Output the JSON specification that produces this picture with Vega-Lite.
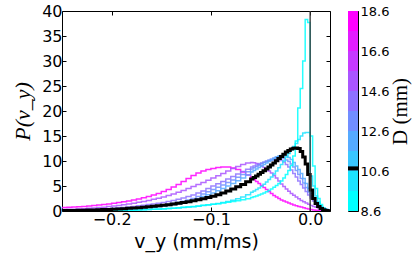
{
  "$schema": "https://vega.github.io/schema/vega-lite/v6.json",
  "background": "white",
  "padding": {"left": 11, "top": 2, "right": 0, "bottom": 5},
  "spacing": 16,
  "config": {
    "view": {"stroke": "black", "strokeWidth": 1},
    "axis": {"grid": false, "domain": false, "tickColor": "black", "tickSize": -4, "tickWidth": 1, "labelColor": "black", "labelFont": "DejaVu Sans", "labelFontSize": 16, "labelPadding": 4, "labelOverlap": false, "titleColor": "black", "titleFontWeight": "normal"}
  },
  "hconcat": [
    {
      "width": 268,
      "height": 200,
      "layer": [
        {
          "data": {"values": [
            {"D": 18.1, "v": [-0.25,-0.245,-0.24,-0.235,-0.23,-0.225,-0.22,-0.215,-0.21,-0.205,-0.2,-0.195,-0.19,-0.185,-0.18,-0.175,-0.17,-0.165,-0.16,-0.155,-0.15,-0.145,-0.14,-0.135,-0.13,-0.125,-0.12,-0.115,-0.11,-0.105,-0.1,-0.095,-0.09,-0.085,-0.08,-0.075,-0.07,-0.065,-0.06,-0.0575,-0.055,-0.0525,-0.05,-0.0475,-0.045,-0.0425,-0.04,-0.0375,-0.035,-0.0325,-0.03,-0.0275,-0.025,-0.0225,-0.02,-0.0175,-0.015,-0.0125,-0.01,-0.0075,-0.005,-0.0025,0,0.0025,0.005,0.0075,0.01,0.0125,0.015,0.0175,0.02],
             "P": [0.7,0.75,0.8,0.85,0.9,1.0,1.1,1.2,1.3,1.4,1.55,1.7,1.85,2.0,2.2,2.4,2.65,2.9,3.2,3.5,3.9,4.3,4.8,5.3,5.9,6.5,7.1,7.6,8.0,8.3,8.5,8.7,8.8,8.8,8.6,8.3,7.8,7.2,6.6,6.3,5.9,5.5,5.1,4.7,4.3,3.9,3.5,3.1,2.8,2.5,2.2,2.0,1.8,1.6,1.4,1.2,1.05,0.9,0.8,0.65,0.5,0.4,0.3,0.2,0.15,0.1,0.05,0.03,0.02,0.01,0]},
            {"D": 15.1, "v": [-0.25,-0.245,-0.24,-0.235,-0.23,-0.225,-0.22,-0.215,-0.21,-0.205,-0.2,-0.195,-0.19,-0.185,-0.18,-0.175,-0.17,-0.165,-0.16,-0.155,-0.15,-0.145,-0.14,-0.135,-0.13,-0.125,-0.12,-0.115,-0.11,-0.105,-0.1,-0.095,-0.09,-0.085,-0.08,-0.075,-0.07,-0.065,-0.06,-0.0575,-0.055,-0.0525,-0.05,-0.0475,-0.045,-0.0425,-0.04,-0.0375,-0.035,-0.0325,-0.03,-0.0275,-0.025,-0.0225,-0.02,-0.0175,-0.015,-0.0125,-0.01,-0.0075,-0.005,-0.0025,0,0.0025,0.005,0.0075,0.01,0.0125,0.015,0.0175,0.02],
             "P": [0.3,0.33,0.37,0.42,0.47,0.53,0.6,0.68,0.77,0.88,1.0,1.12,1.25,1.4,1.56,1.73,1.92,2.12,2.33,2.55,2.8,3.1,3.4,3.75,4.1,4.5,4.9,5.3,5.7,6.15,6.6,7.05,7.5,8.0,8.5,8.9,9.3,9.6,9.7,9.65,9.5,9.3,9.0,8.7,8.35,8.0,7.6,7.1,6.6,6.0,5.4,4.9,4.4,3.95,3.5,3.15,2.8,2.45,2.1,1.85,1.6,1.35,1.1,0.9,0.75,0.6,0.5,0.38,0.27,0.18,0]},
            {"D": 13.6, "v": [-0.25,-0.245,-0.24,-0.235,-0.23,-0.225,-0.22,-0.215,-0.21,-0.205,-0.2,-0.195,-0.19,-0.185,-0.18,-0.175,-0.17,-0.165,-0.16,-0.155,-0.15,-0.145,-0.14,-0.135,-0.13,-0.125,-0.12,-0.115,-0.11,-0.105,-0.1,-0.095,-0.09,-0.085,-0.08,-0.075,-0.07,-0.065,-0.06,-0.0575,-0.055,-0.0525,-0.05,-0.0475,-0.045,-0.0425,-0.04,-0.0375,-0.035,-0.0325,-0.03,-0.0275,-0.025,-0.0225,-0.02,-0.0175,-0.015,-0.0125,-0.01,-0.0075,-0.005,-0.0025,0,0.0025,0.005,0.0075,0.01,0.0125,0.015,0.0175,0.02],
             "P": [0.15,0.17,0.19,0.21,0.24,0.27,0.3,0.34,0.39,0.46,0.55,0.63,0.72,0.82,0.92,1.03,1.15,1.28,1.42,1.56,1.72,1.9,2.1,2.35,2.6,2.9,3.2,3.6,4.0,4.5,5.0,5.45,5.9,6.4,6.9,7.4,7.9,8.35,8.8,9.0,9.2,9.4,9.6,9.75,9.9,10.05,10.2,10.3,10.4,10.3,10.1,9.8,9.3,8.8,8.2,7.5,6.8,6.0,5.3,4.6,3.9,3.2,2.6,2.0,1.5,1.1,0.75,0.5,0.3,0.15,0]},
            {"D": 12.6, "v": [-0.25,-0.245,-0.24,-0.235,-0.23,-0.225,-0.22,-0.215,-0.21,-0.205,-0.2,-0.195,-0.19,-0.185,-0.18,-0.175,-0.17,-0.165,-0.16,-0.155,-0.15,-0.145,-0.14,-0.135,-0.13,-0.125,-0.12,-0.115,-0.11,-0.105,-0.1,-0.095,-0.09,-0.085,-0.08,-0.075,-0.07,-0.065,-0.06,-0.0575,-0.055,-0.0525,-0.05,-0.0475,-0.045,-0.0425,-0.04,-0.0375,-0.035,-0.0325,-0.03,-0.0275,-0.025,-0.0225,-0.02,-0.0175,-0.015,-0.0125,-0.01,-0.0075,-0.005,-0.0025,0,0.0025,0.005,0.0075,0.01,0.0125,0.015,0.0175,0.02],
             "P": [0.1,0.11,0.12,0.14,0.16,0.18,0.2,0.23,0.26,0.3,0.35,0.4,0.46,0.53,0.61,0.7,0.8,0.9,1.0,1.12,1.25,1.4,1.57,1.76,1.97,2.2,2.5,2.9,3.4,3.85,4.3,4.75,5.2,5.7,6.2,6.75,7.3,7.85,8.4,8.65,8.9,9.2,9.5,9.75,10.0,10.2,10.4,10.6,10.75,10.8,10.75,10.5,10.2,9.9,9.4,8.8,8.1,7.3,6.5,5.6,4.7,3.8,3.0,2.3,1.7,1.2,0.8,0.5,0.3,0.15,0]},
            {"D": 11.6, "v": [-0.25,-0.245,-0.24,-0.235,-0.23,-0.225,-0.22,-0.215,-0.21,-0.205,-0.2,-0.195,-0.19,-0.185,-0.18,-0.175,-0.17,-0.165,-0.16,-0.155,-0.15,-0.145,-0.14,-0.135,-0.13,-0.125,-0.12,-0.115,-0.11,-0.105,-0.1,-0.095,-0.09,-0.085,-0.08,-0.075,-0.07,-0.065,-0.06,-0.0575,-0.055,-0.0525,-0.05,-0.0475,-0.045,-0.0425,-0.04,-0.0375,-0.035,-0.0325,-0.03,-0.0275,-0.025,-0.0225,-0.02,-0.0175,-0.015,-0.0125,-0.01,-0.0075,-0.005,-0.0025,0,0.0025,0.005,0.0075,0.01,0.0125,0.015,0.0175,0.02],
             "P": [0.05,0.06,0.07,0.08,0.09,0.1,0.12,0.14,0.17,0.21,0.25,0.29,0.34,0.4,0.46,0.53,0.6,0.68,0.77,0.87,0.98,1.1,1.24,1.4,1.58,1.8,2.05,2.45,2.9,3.25,3.6,4.05,4.5,5.0,5.5,6.05,6.6,7.2,7.8,8.1,8.4,8.7,9.0,9.3,9.6,9.9,10.2,10.5,10.8,11.0,11.1,11.1,11.0,10.7,10.3,9.7,9.0,8.3,7.5,6.5,5.5,4.5,3.5,2.6,1.9,1.3,0.9,0.55,0.3,0.15,0]},
            {"D": 9.6, "v": [-0.25,-0.245,-0.24,-0.235,-0.23,-0.225,-0.22,-0.215,-0.21,-0.205,-0.2,-0.195,-0.19,-0.185,-0.18,-0.175,-0.17,-0.165,-0.16,-0.155,-0.15,-0.145,-0.14,-0.135,-0.13,-0.125,-0.12,-0.115,-0.11,-0.105,-0.1,-0.095,-0.09,-0.085,-0.08,-0.075,-0.07,-0.065,-0.06,-0.0575,-0.055,-0.0525,-0.05,-0.0475,-0.045,-0.0425,-0.04,-0.0375,-0.035,-0.0325,-0.03,-0.0275,-0.025,-0.0225,-0.02,-0.0175,-0.015,-0.0125,-0.01,-0.0075,-0.005,-0.0025,0,0.0025,0.005,0.0075,0.01,0.0125,0.015,0.0175,0.02],
             "P": [0.02,0.02,0.03,0.03,0.04,0.05,0.06,0.07,0.08,0.09,0.1,0.12,0.14,0.16,0.19,0.22,0.25,0.29,0.33,0.37,0.42,0.48,0.55,0.62,0.7,0.78,0.87,0.97,1.08,1.2,1.33,1.5,1.7,1.92,2.17,2.45,2.8,3.25,3.75,4.0,4.3,4.6,4.95,5.35,5.8,6.3,6.8,7.4,8.0,8.65,9.3,10.0,10.8,11.5,12.2,12.9,13.5,14.3,15.0,15.6,15.7,15.7,7.0,5.0,3.0,1.8,0.9,0.45,0.18,0.06,0]},
            {"D": 8.6, "v": [-0.25,-0.245,-0.24,-0.235,-0.23,-0.225,-0.22,-0.215,-0.21,-0.205,-0.2,-0.195,-0.19,-0.185,-0.18,-0.175,-0.17,-0.165,-0.16,-0.155,-0.15,-0.145,-0.14,-0.135,-0.13,-0.125,-0.12,-0.115,-0.11,-0.105,-0.1,-0.095,-0.09,-0.085,-0.08,-0.075,-0.07,-0.065,-0.06,-0.0575,-0.055,-0.0525,-0.05,-0.0475,-0.045,-0.0425,-0.04,-0.0375,-0.035,-0.0325,-0.03,-0.0275,-0.025,-0.0225,-0.02,-0.0175,-0.015,-0.0125,-0.01,-0.0075,-0.005,-0.0025,0,0.0025,0.005,0.0075,0.01,0.0125,0.015,0.0175,0.02],
             "P": [0.01,0.01,0.02,0.02,0.03,0.03,0.04,0.05,0.06,0.07,0.08,0.1,0.12,0.14,0.17,0.2,0.24,0.28,0.33,0.38,0.44,0.5,0.57,0.65,0.73,0.82,0.92,1.02,1.13,1.24,1.35,1.47,1.6,1.74,1.89,2.05,2.25,2.45,2.7,2.85,3.0,3.2,3.4,3.6,3.85,4.1,4.4,4.75,5.1,5.5,6.0,6.6,7.3,8.1,9.1,11.0,14.0,20.6,24.5,30.0,38.3,37.7,15.0,9.0,4.5,2.5,1.3,0.6,0.3,0.1,0]}
          ]},
          "transform": [{"flatten": ["v", "P"]}],
          "mark": {"type": "line", "interpolate": "step-after", "strokeWidth": 1.5, "opacity": 0.85, "clip": true},
          "encoding": {
            "x": {"field": "v", "type": "quantitative", "scale": {"domain": [-0.25, 0.02], "nice": false, "zero": false},
                  "axis": {"values": [-0.2, -0.1, 0], "format": ".1f", "title": "v_y (mm/ms)", "titleFont": "DejaVu Sans", "titleFontSize": 19, "titlePadding": 5}},
            "y": {"field": "P", "type": "quantitative", "scale": {"domain": [0, 40], "nice": false},
                  "axis": {"values": [0, 5, 10, 15, 20, 25, 30, 35, 40], "title": "P(v_y)", "titleFont": "Liberation Serif", "titleFontStyle": "italic", "titleFontSize": 22, "titlePadding": 7}},
            "color": {"field": "D", "type": "quantitative", "scale": {"type": "quantize", "domain": [8.6, 18.6], "range": ["#00ffff","#1ce3ff","#39c6ff","#55aaff","#718eff","#8e71ff","#aa55ff","#c639ff","#e31cff","#ff00ff"]}, "legend": null},
            "detail": {"field": "D", "type": "nominal"}
          }
        },
        {
          "data": {"values": [
            {"D": 10.7, "v": [-0.25,-0.245,-0.24,-0.235,-0.23,-0.225,-0.22,-0.215,-0.21,-0.205,-0.2,-0.195,-0.19,-0.185,-0.18,-0.175,-0.17,-0.165,-0.16,-0.155,-0.15,-0.145,-0.14,-0.135,-0.13,-0.125,-0.12,-0.115,-0.11,-0.105,-0.1,-0.095,-0.09,-0.085,-0.08,-0.075,-0.07,-0.065,-0.06,-0.0575,-0.055,-0.0525,-0.05,-0.0475,-0.045,-0.0425,-0.04,-0.0375,-0.035,-0.0325,-0.03,-0.0275,-0.025,-0.0225,-0.02,-0.0175,-0.015,-0.0125,-0.01,-0.0075,-0.005,-0.0025,0,0.0025,0.005,0.0075,0.01,0.0125,0.015,0.0175,0.02],
             "P": [0.1,0.11,0.12,0.14,0.16,0.18,0.21,0.24,0.28,0.32,0.37,0.42,0.47,0.53,0.6,0.67,0.75,0.84,0.94,1.04,1.15,1.27,1.4,1.55,1.7,1.87,2.05,2.25,2.45,2.7,2.95,3.25,3.6,4.0,4.4,4.85,5.3,5.85,6.4,6.7,7.0,7.35,7.7,8.05,8.4,8.8,9.2,9.6,10.05,10.5,10.9,11.35,11.8,12.1,12.4,12.55,12.6,12.5,11.9,10.8,9.4,7.3,4.2,2.5,1.5,0.9,0.5,0.25,0.12,0.05,0]}
          ]},
          "transform": [{"flatten": ["v", "P"]}],
          "mark": {"type": "line", "interpolate": "step-after", "strokeWidth": 3, "color": "black", "clip": true},
          "encoding": {
            "x": {"field": "v", "type": "quantitative", "axis": {"orient": "top", "values": [-0.2, -0.1, 0], "labels": false, "title": null}},
            "y": {"field": "P", "type": "quantitative", "axis": {"orient": "right", "values": [0, 5, 10, 15, 20, 25, 30, 35, 40], "labels": false, "title": null}}
          }
        },
        {
          "data": {"values": [{"v": 0}]},
          "mark": {"type": "rule", "color": "#333333", "strokeWidth": 1.3},
          "encoding": {
            "x": {"field": "v", "type": "quantitative", "axis": null}
          }
        }
      ],
      "resolve": {"axis": {"x": "independent", "y": "independent"}}
    },
    {
      "width": 10,
      "height": 200,
      "data": {"values": [
        {"lo": 8.6, "hi": 9.6, "D": 9.1, "hl": false},
        {"lo": 9.6, "hi": 10.6, "D": 10.1, "hl": false},
        {"lo": 10.6, "hi": 11.6, "D": 11.1, "hl": false},
        {"lo": 11.6, "hi": 12.6, "D": 12.1, "hl": false},
        {"lo": 12.6, "hi": 13.6, "D": 13.1, "hl": false},
        {"lo": 13.6, "hi": 14.6, "D": 14.1, "hl": false},
        {"lo": 14.6, "hi": 15.6, "D": 15.1, "hl": false},
        {"lo": 15.6, "hi": 16.6, "D": 16.1, "hl": false},
        {"lo": 16.6, "hi": 17.6, "D": 17.1, "hl": false},
        {"lo": 17.6, "hi": 18.6, "D": 18.1, "hl": false},
        {"lo": 10.63, "hi": 10.83, "D": 10.73, "hl": true}
      ]},
      "mark": {"type": "rect"},
      "encoding": {
        "y": {"field": "lo", "type": "quantitative", "scale": {"domain": [8.6, 18.6], "nice": false, "zero": false},
              "axis": {"orient": "right", "values": [8.6, 10.6, 12.6, 14.6, 16.6, 18.6], "format": ".1f", "labelFontSize": 13, "labelPadding": 5, "labelOverlap": false, "labelBound": false, "labelFlush": false, "tickSize": -3, "title": "D (mm)", "titleFont": "Liberation Serif", "titleFontSize": 21, "titleAngle": 270, "titlePadding": 22}},
        "y2": {"field": "hi"},
        "x": {"value": 0},
        "x2": {"value": "width"},
        "color": {"condition": {"test": "datum.hl", "value": "black"}, "field": "D", "type": "quantitative", "scale": {"type": "quantize", "domain": [8.6, 18.6], "range": ["#00ffff","#1ce3ff","#39c6ff","#55aaff","#718eff","#8e71ff","#aa55ff","#c639ff","#e31cff","#ff00ff"]}, "legend": null}
      }
    }
  ]
}
